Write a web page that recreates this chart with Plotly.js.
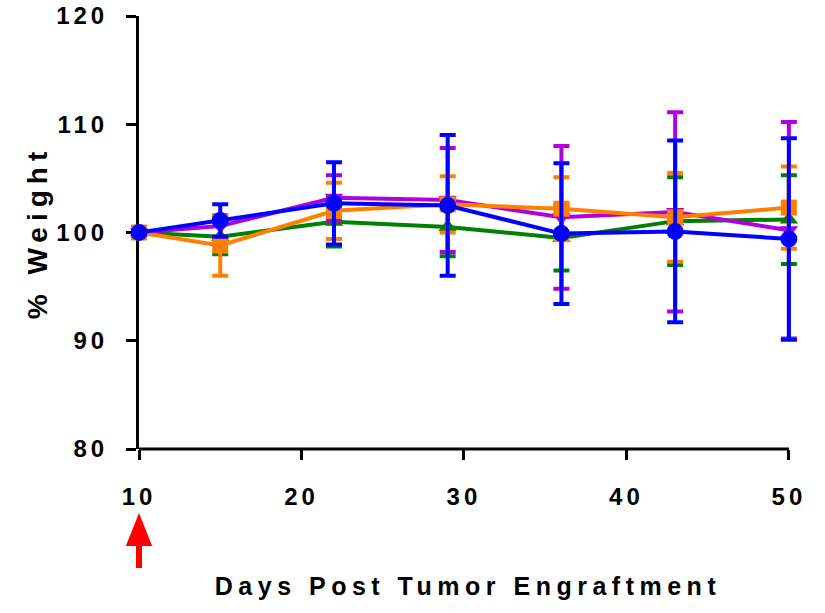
<!DOCTYPE html>
<html>
<head>
<meta charset="utf-8">
<script src="https://cdn.plot.ly/plotly-3.0.1.min.js"></script>
<style>
  html, body { margin: 0; padding: 0; background: #fff; }
  #chart { width: 825px; height: 613px; }
  .xtick text, .ytick text { letter-spacing: 4px; }
  .g-xtitle text { letter-spacing: 5.5px; }
  .g-ytitle text { letter-spacing: 6px; }
</style>
</head>
<body>
<div id="chart"></div>
<script>
// Data
const days = [10, 15, 22, 29, 36, 43, 50];

const greenMean   = [100, 99.6, 101.0, 100.5, 99.5, 101.05, 101.2];
const greenErr    = [0, 1.6, 2.3, 2.7, 3.0, 4.05, 4.1];

const purpleMean  = [100, 100.6, 103.2, 103.0, 101.4, 101.9, 100.2];
const purpleErr   = [0, 1.0, 2.1, 4.8, 6.6, 9.2, 10.0];

const orangeMean  = [100, 98.8, 102.0, 102.6, 102.2, 101.4, 102.3];
const orangeErr   = [0, 2.8, 2.6, 2.6, 2.9, 4.1, 3.8];

const blueMean    = [100, 101.1, 102.7, 102.5, 99.9, 100.1, 99.4];
const blueErr     = [0, 1.5, 3.8, 6.5, 6.5, 8.4, 9.3];

const xTickVals = [10, 20, 30, 40, 50];
const yTickVals = [80, 90, 100, 110, 120];
const xMin = 10, xMax = 50, xPad = 0.5;   // pad keeps the last error caps unclipped
const treatmentDay = 10;

function series(y, err, color, symbol, size) {
  return {
    x: days, y: y, type: 'scatter', mode: 'lines+markers',
    cliponaxis: false,
    line: { color: color, width: 4 },
    marker: { color: color, symbol: symbol, size: size, line: { width: 0 } },
    error_y: { type: 'data', array: err, visible: true, color: color, thickness: 4, width: 8 },
    showlegend: false
  };
}

const traces = [
  series(greenMean, greenErr, '#008000', 'triangle-up', 16),
  series(purpleMean, purpleErr, '#B000E0', 'triangle-down', 16),
  series(orangeMean, orangeErr, '#FF8000', 'square', 16),
  series(blueMean, blueErr, '#0000FF', 'circle', 17)
];

const fontFam = '"Liberation Sans", Arial, sans-serif';
const span = xMax + xPad - xMin;
const endFrac = (xMax - xMin) / span;
const plotW = 650 * span / (xMax - xMin);
const dayFrac = (treatmentDay - xMin) / span;

const layout = {
  width: 825, height: 613,
  margin: { l: 139, r: 825 - 139 - plotW, t: 16, b: 164 },
  paper_bgcolor: '#fff', plot_bgcolor: '#fff',
  font: { family: fontFam, color: '#000' },
  xaxis: {
    range: [xMin, xMax + xPad], tickvals: xTickVals, ticktext: xTickVals.map(String),
    showgrid: false, zeroline: false, showline: false,
    ticks: 'outside', ticklen: 10, tickwidth: 3, tickcolor: '#000',
    tickfont: { family: fontFam, size: 24, weight: 'bold', color: '#000' },
    ticklabelstandoff: 16,
    layer: 'below traces',
    title: { text: 'Days Post Tumor Engraftment', font: { family: fontFam, size: 25, weight: 'bold', color: '#000' }, standoff: 68 },
    automargin: false
  },
  yaxis: {
    range: [80, 120], tickvals: yTickVals, ticktext: yTickVals.map(String),
    showgrid: false, zeroline: false, showline: true, linecolor: '#000', linewidth: 3,
    ticks: 'outside', ticklen: 10, tickwidth: 3, tickcolor: '#000',
    tickfont: { family: fontFam, size: 24, weight: 'bold', color: '#000' },
    ticklabelstandoff: 13,
    layer: 'below traces',
    title: { text: '% Weight', font: { family: fontFam, size: 28, weight: 'bold', color: '#000' }, standoff: 1 },
    automargin: false
  },
  shapes: [
    {
      type: 'line', xref: 'paper', yref: 'paper', layer: 'below',
      x0: 0, x1: endFrac, y0: 0, y1: 0,
      line: { color: '#000', width: 3 }
    },
    {
      type: 'path', xref: 'paper', yref: 'paper', layer: 'above',
      path: 'M ' + dayFrac + ',-0.148 L ' + (dayFrac + 0.02) + ',-0.224 L ' + (dayFrac + 0.0046) + ',-0.224 L ' +
            (dayFrac + 0.0046) + ',-0.275 L ' + (dayFrac - 0.0046) + ',-0.275 L ' + (dayFrac - 0.0046) + ',-0.224 L ' +
            (dayFrac - 0.02) + ',-0.224 Z',
      fillcolor: '#FF0000', line: { width: 0 }
    }
  ]
};

Plotly.newPlot('chart', traces, layout, { displayModeBar: false, staticPlot: true });
</script>
</body>
</html>
